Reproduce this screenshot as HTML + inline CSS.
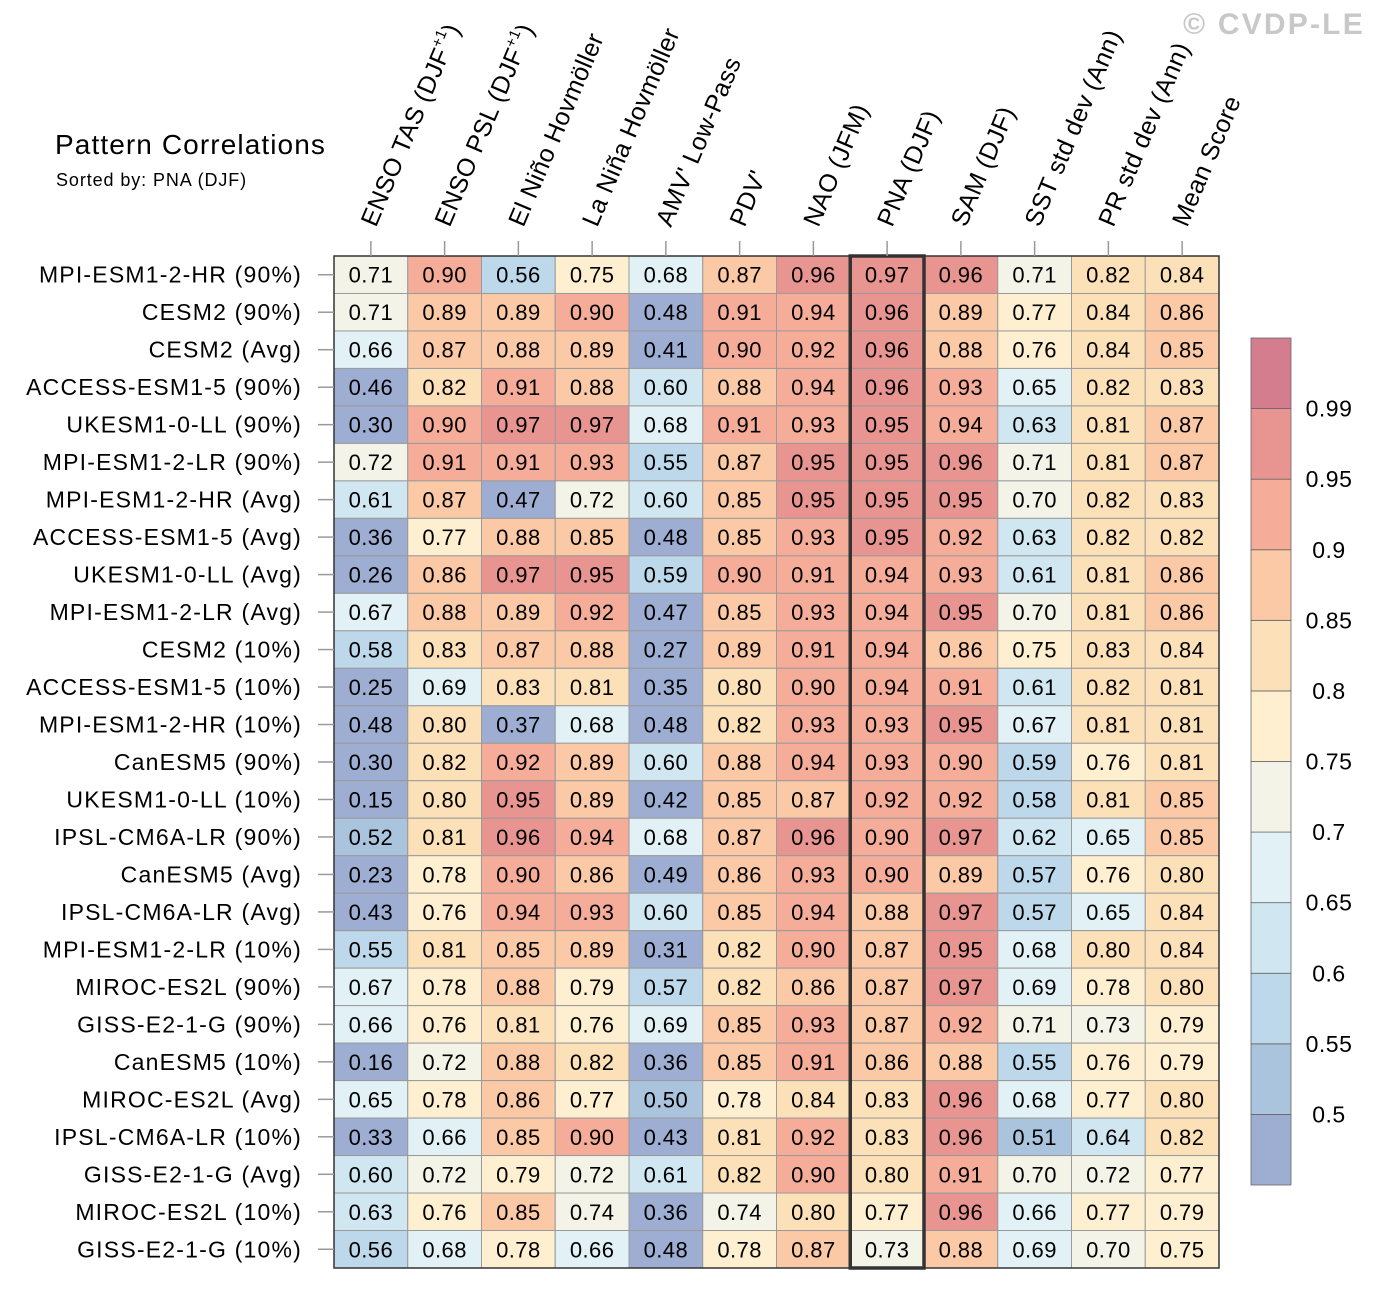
<!DOCTYPE html>
<html><head><meta charset="utf-8"><style>
body{margin:0;background:#fff;}
svg{display:block;font-family:"Liberation Sans",sans-serif;}
</style></head><body>
<svg id="chart" width="1375" height="1289" viewBox="0 0 1375 1289">
<text x="1183" y="34" font-size="30" font-weight="bold" letter-spacing="2.2" fill="#c8c8c8">© CVDP-LE</text>
<text x="55" y="154" font-size="28" letter-spacing="1.1" fill="#000">Pattern Correlations</text>
<text x="56" y="186" font-size="18" letter-spacing="0.9" fill="#000">Sorted by: PNA (DJF)</text>
<g id="cells"></g><g id="texts"></g><g id="axes"></g><g id="cbar"></g>
</svg>
<script>
const columns=["ENSO TAS (DJF+1)","ENSO PSL (DJF+1)","El Niño Hovmöller","La Niña Hovmöller","AMV' Low-Pass","PDV'","NAO (JFM)","PNA (DJF)","SAM (DJF)","SST std dev (Ann)","PR std dev (Ann)","Mean Score"];
const models=["MPI-ESM1-2-HR (90%)","CESM2 (90%)","CESM2 (Avg)","ACCESS-ESM1-5 (90%)","UKESM1-0-LL (90%)","MPI-ESM1-2-LR (90%)","MPI-ESM1-2-HR (Avg)","ACCESS-ESM1-5 (Avg)","UKESM1-0-LL (Avg)","MPI-ESM1-2-LR (Avg)","CESM2 (10%)","ACCESS-ESM1-5 (10%)","MPI-ESM1-2-HR (10%)","CanESM5 (90%)","UKESM1-0-LL (10%)","IPSL-CM6A-LR (90%)","CanESM5 (Avg)","IPSL-CM6A-LR (Avg)","MPI-ESM1-2-LR (10%)","MIROC-ES2L (90%)","GISS-E2-1-G (90%)","CanESM5 (10%)","MIROC-ES2L (Avg)","IPSL-CM6A-LR (10%)","GISS-E2-1-G (Avg)","MIROC-ES2L (10%)","GISS-E2-1-G (10%)"];
const values=[
[0.71,0.90,0.56,0.75,0.68,0.87,0.96,0.97,0.96,0.71,0.82,0.84],
[0.71,0.89,0.89,0.90,0.48,0.91,0.94,0.96,0.89,0.77,0.84,0.86],
[0.66,0.87,0.88,0.89,0.41,0.90,0.92,0.96,0.88,0.76,0.84,0.85],
[0.46,0.82,0.91,0.88,0.60,0.88,0.94,0.96,0.93,0.65,0.82,0.83],
[0.30,0.90,0.97,0.97,0.68,0.91,0.93,0.95,0.94,0.63,0.81,0.87],
[0.72,0.91,0.91,0.93,0.55,0.87,0.95,0.95,0.96,0.71,0.81,0.87],
[0.61,0.87,0.47,0.72,0.60,0.85,0.95,0.95,0.95,0.70,0.82,0.83],
[0.36,0.77,0.88,0.85,0.48,0.85,0.93,0.95,0.92,0.63,0.82,0.82],
[0.26,0.86,0.97,0.95,0.59,0.90,0.91,0.94,0.93,0.61,0.81,0.86],
[0.67,0.88,0.89,0.92,0.47,0.85,0.93,0.94,0.95,0.70,0.81,0.86],
[0.58,0.83,0.87,0.88,0.27,0.89,0.91,0.94,0.86,0.75,0.83,0.84],
[0.25,0.69,0.83,0.81,0.35,0.80,0.90,0.94,0.91,0.61,0.82,0.81],
[0.48,0.80,0.37,0.68,0.48,0.82,0.93,0.93,0.95,0.67,0.81,0.81],
[0.30,0.82,0.92,0.89,0.60,0.88,0.94,0.93,0.90,0.59,0.76,0.81],
[0.15,0.80,0.95,0.89,0.42,0.85,0.87,0.92,0.92,0.58,0.81,0.85],
[0.52,0.81,0.96,0.94,0.68,0.87,0.96,0.90,0.97,0.62,0.65,0.85],
[0.23,0.78,0.90,0.86,0.49,0.86,0.93,0.90,0.89,0.57,0.76,0.80],
[0.43,0.76,0.94,0.93,0.60,0.85,0.94,0.88,0.97,0.57,0.65,0.84],
[0.55,0.81,0.85,0.89,0.31,0.82,0.90,0.87,0.95,0.68,0.80,0.84],
[0.67,0.78,0.88,0.79,0.57,0.82,0.86,0.87,0.97,0.69,0.78,0.80],
[0.66,0.76,0.81,0.76,0.69,0.85,0.93,0.87,0.92,0.71,0.73,0.79],
[0.16,0.72,0.88,0.82,0.36,0.85,0.91,0.86,0.88,0.55,0.76,0.79],
[0.65,0.78,0.86,0.77,0.50,0.78,0.84,0.83,0.96,0.68,0.77,0.80],
[0.33,0.66,0.85,0.90,0.43,0.81,0.92,0.83,0.96,0.51,0.64,0.82],
[0.60,0.72,0.79,0.72,0.61,0.82,0.90,0.80,0.91,0.70,0.72,0.77],
[0.63,0.76,0.85,0.74,0.36,0.74,0.80,0.77,0.96,0.66,0.77,0.79],
[0.56,0.68,0.78,0.66,0.48,0.78,0.87,0.73,0.88,0.69,0.70,0.75]];
const levels=[0.5,0.55,0.6,0.65,0.7,0.75,0.8,0.85,0.9,0.95,0.99];
const levelLabels=["0.5","0.55","0.6","0.65","0.7","0.75","0.8","0.85","0.9","0.95","0.99"];
const palette=["#9daed2","#abc4de","#bcd8ea","#d0e6f0","#e2f1f5","#f3f3e8","#fdefcf","#fce0b8","#fbc9a6","#f5ad9a","#e89490","#d47d8f"];
const sortedCol=7;

const NS="http://www.w3.org/2000/svg";
const X0=334,X1=1219,Y0=256,Y1=1268;
const cw=(X1-X0)/columns.length, rh=(Y1-Y0)/models.length;
const xPos=i=>X0+i*cw, yPos=j=>Y0+j*rh;
function colorOf(v){let k=0;while(k<levels.length&&v>=levels[k]-1e-9)k++;return palette[k];}
function mk(tag,attrs,parent){const e=document.createElementNS(NS,tag);for(const a in attrs)e.setAttribute(a,attrs[a]);parent.appendChild(e);return e;}
const cells=document.getElementById('cells'),texts=document.getElementById('texts'),axes=document.getElementById('axes'),cbar=document.getElementById('cbar');

values.forEach((row,j)=>row.forEach((v,i)=>{
  const r=mk('rect',{x:xPos(i),y:yPos(j),width:cw,height:rh,fill:colorOf(v),stroke:'#9a9a9a','stroke-width':1},cells);
  
  
  const t=mk('text',{x:xPos(i)+cw/2,y:yPos(j)+rh/2+8,'font-size':22,'letter-spacing':0.4,'text-anchor':'middle',fill:'#000'},texts);
  t.textContent=v.toFixed(2);
  
  
}));
const fr=mk('rect',{x:X0,y:Y0,width:X1-X0,height:Y1-Y0,fill:'none',stroke:'#333','stroke-width':1.5},axes);


const hl=mk('rect',{x:xPos(sortedCol),y:Y0,width:cw,height:Y1-Y0,fill:'none',stroke:'#333','stroke-width':3.5},axes);



models.forEach((m,j)=>{
  const y=yPos(j)+rh/2;
  mk('line',{x1:318,x2:X0,y1:y,y2:y,stroke:'#999','stroke-width':1.5},axes);
  const t=mk('text',{x:302,y:y+8,'font-size':23,'letter-spacing':1.2,'text-anchor':'end',fill:'#000'},axes);
  t.textContent=m;
  
  
});
columns.forEach((c,i)=>{
  const x=xPos(i)+cw/2;
  mk('line',{x1:x,x2:x,y1:241,y2:Y0,stroke:'#999','stroke-width':1.5},axes);
  const t=mk('text',{x:x+5,y:228,'font-size':25,'letter-spacing':0.4,fill:'#000',transform:`rotate(-67 ${x+5} 228)`},axes);
  const m=c.match(/^(.*)\+1\)$/);
  if(m){t.textContent=m[1];const s=mk('tspan',{'font-size':15,dy:-11},t);s.textContent='+1';const s2=mk('tspan',{dy:11},t);s2.textContent=')';}
  else t.textContent=c;
  
  
});
const CB_X=1251,CB_W=40,CB_T=338,CB_B=1185,bh=(CB_B-CB_T)/palette.length;
palette.forEach((p,k)=>{
  const r=mk('rect',{x:CB_X,y:CB_B-(k+1)*bh,width:CB_W,height:bh,fill:p,stroke:'#666','stroke-width':0.8},cbar);
  
  
});
levelLabels.forEach((l,k)=>{
  const t=mk('text',{x:1329,y:CB_B-(k+1)*bh+8,'font-size':23,'letter-spacing':0.5,'text-anchor':'middle',fill:'#000'},cbar);
  t.textContent=l;
  
  
});
</script>
</body></html>
